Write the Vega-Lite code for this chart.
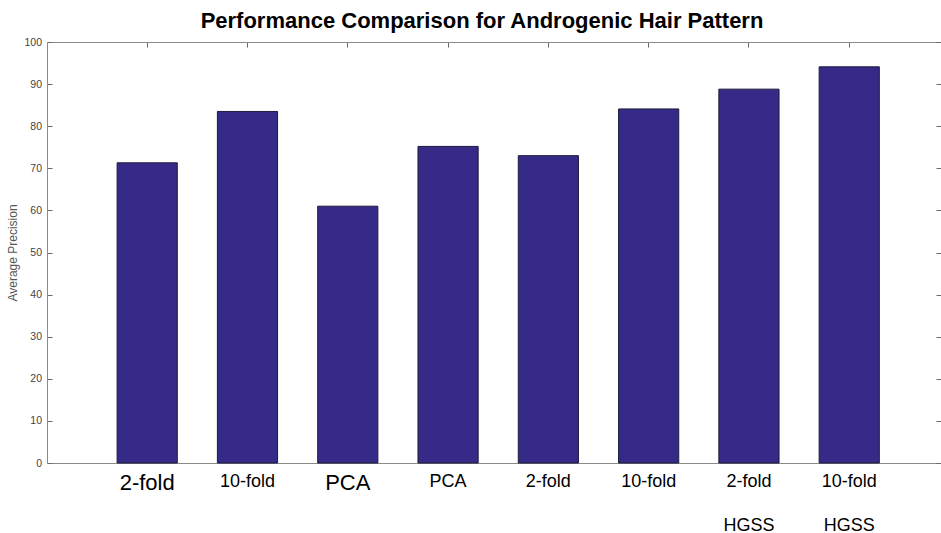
{
  "$schema": "https://vega.github.io/schema/vega-lite/v6.json",
  "width": 894,
  "height": 421,
  "autosize": "none",
  "padding": {"left": 47, "top": 42, "right": 0, "bottom": 70},
  "background": "white",
  "title": {
    "text": "Performance Comparison for Androgenic Hair Pattern",
    "font": "Liberation Sans",
    "fontSize": 22,
    "fontWeight": "bold",
    "color": "#000000",
    "anchor": "middle",
    "dx": -12,
    "offset": 4
  },
  "data": {
    "values": [
      {"id": "b1", "value": 71.3},
      {"id": "b2", "value": 83.5},
      {"id": "b3", "value": 61.0},
      {"id": "b4", "value": 75.2},
      {"id": "b5", "value": 73.0},
      {"id": "b6", "value": 84.1},
      {"id": "b7", "value": 88.8},
      {"id": "b8", "value": 94.1}
    ]
  },
  "config": {
    "view": {"stroke": null},
    "axis": {"domainColor": "#8a8a8a", "tickColor": "#6a6a6a", "grid": false}
  },
  "layer": [
    {
      "mark": {"type": "bar", "fill": "#352a87", "stroke": "#1c1c3a", "strokeWidth": 1},
      "encoding": {
        "x": {
          "field": "id",
          "type": "nominal",
          "sort": null,
          "scale": {"paddingInner": 0.4, "paddingOuter": 0.657, "align": 0.532},
          "axis": {
            "orient": "bottom",
            "title": null,
            "ticks": false,
            "labelAngle": 0,
            "labelFont": "Liberation Sans",
            "labelColor": "#000000",
            "labelFontSize": {"condition": {"test": "datum.value === 'b1' || datum.value === 'b3'", "value": 22}, "value": 18},
            "labelPadding": 9,
            "labelLineHeight": 44,
            "labelBaseline": "top",
            "labelExpr": "{'b1':'2-fold','b2':'10-fold','b3':'PCA','b4':'PCA','b5':'2-fold','b6':'10-fold','b7':['2-fold','HGSS'],'b8':['10-fold','HGSS']}[datum.value]"
          }
        },
        "y": {
          "field": "value",
          "type": "quantitative",
          "scale": {"domain": [0, 100], "nice": false},
          "axis": {
            "orient": "left",
            "title": "Average Precision",
            "titleFont": "Liberation Sans",
            "titleFontSize": 12,
            "titleFontWeight": "normal",
            "titleColor": "#555555",
            "titlePadding": 4,
            "values": [0, 10, 20, 30, 40, 50, 60, 70, 80, 90, 100],
            "labelFont": "Liberation Sans",
            "labelFontSize": 10.5,
            "labelColor": "#444444",
            "tickSize": -5,
            "labelPadding": 10.5
          }
        }
      }
    },
    {
      "mark": {"type": "bar", "opacity": 0},
      "encoding": {
        "x": {
          "field": "id",
          "type": "nominal",
          "sort": null,
          "axis": {"orient": "top", "title": null, "labels": false, "tickSize": -5}
        },
        "y": {
          "field": "value",
          "type": "quantitative",
          "axis": {"orient": "right", "title": null, "labels": false, "tickSize": -5, "values": [0, 10, 20, 30, 40, 50, 60, 70, 80, 90, 100]}
        }
      }
    }
  ],
  "resolve": {"axis": {"x": "independent", "y": "independent"}}
}
